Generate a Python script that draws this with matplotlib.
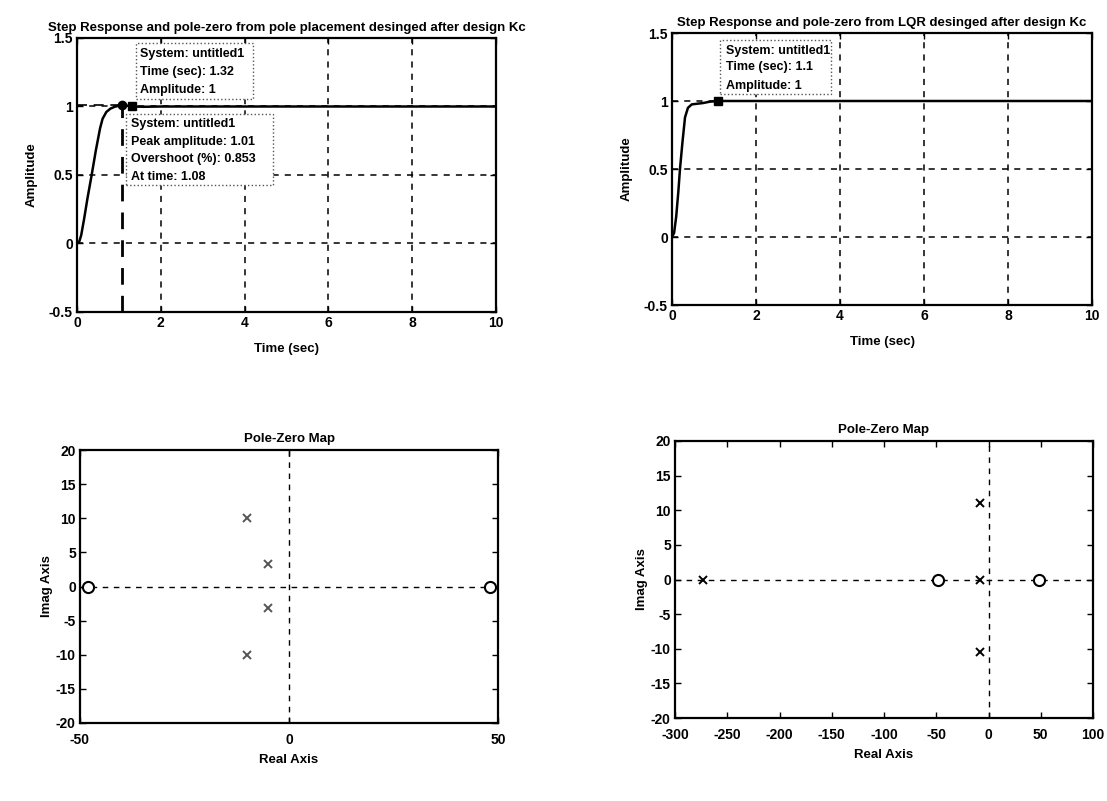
import numpy as np
import matplotlib
matplotlib.use('Agg')
import matplotlib.pyplot as plt

plt.rcParams['font.family'] = ['Liberation Sans', 'DejaVu Sans']
plt.rcParams['font.weight'] = 'bold'
plt.rcParams['axes.unicode_minus'] = False

# step response, pole placement
t_pp = [0, 0.05, 0.1, 0.17, 0.25, 0.35, 0.45, 0.55, 0.61, 0.7, 0.8, 0.9,
        1.0, 1.08, 1.2, 1.32, 1.6, 2, 3, 5, 10]
y_pp = [0, 0.01, 0.06, 0.18, 0.33, 0.5, 0.68, 0.84, 0.91, 0.96, 0.985, 0.998,
        1.006, 1.0085, 1.006, 1.0, 0.998, 1.0, 1.0, 1.0, 1.0]
peak_t, peak_y = 1.08, 1.0085
settle_t, settle_y = 1.32, 1.0

# step response, LQR
t_lqr = [0, 0.05, 0.1, 0.15, 0.19, 0.25, 0.31, 0.38, 0.47, 0.6, 0.74, 0.9,
         1.1, 2, 4, 6, 8, 10]
y_lqr = [0, 0.03, 0.15, 0.33, 0.5, 0.7, 0.88, 0.95, 0.975, 0.98, 0.985, 0.995,
         1.0, 1.0, 1.0, 1.0, 1.0, 1.0]
lqr_mark_t, lqr_mark_y = 1.1, 1.0

# pole-zero, pole placement
pp_poles_re = [-10, -5, -5, -10]
pp_poles_im = [10, 3.3, -3.2, -10]
pp_zeros_re = [-48, 48]
pp_zeros_im = [0, 0]

# pole-zero, LQR
lqr_poles_re = [-273, -8, -8, -8]
lqr_poles_im = [0, 11, 0, -10.5]
lqr_zeros_re = [-48, 48]
lqr_zeros_im = [0, 0]

W, H = 1107, 801
fig = plt.figure(figsize=(W / 100, H / 100), dpi=100)


def box(l, r, t, b):
    return [l / W, (H - b) / H, (r - l) / W, (b - t) / H]


def style(ax):
    for s in ax.spines.values():
        s.set_linewidth(1.6)
        s.set_color('black')
    ax.tick_params(direction='in', length=4, width=1, labelsize=10, pad=3,
                   top=True, right=True)


def step_axes(ax, title):
    style(ax)
    ax.set_xlim(0, 10)
    ax.set_ylim(-0.5, 1.5)
    ax.set_xticks([0, 2, 4, 6, 8, 10])
    ax.set_yticks([-0.5, 0, 0.5, 1, 1.5])
    ax.set_yticklabels(['-0.5', '0', '0.5', '1', '1.5'])
    ax.grid(True, linestyle=(0, (4, 4)), color='black', linewidth=1.1)
    ax.set_title(title, fontsize=9.5, fontweight='bold', pad=5)
    ax.set_xlabel('Time (sec)', fontsize=9.5, fontweight='bold', labelpad=9)
    ax.set_ylabel('Amplitude', fontsize=9.5, fontweight='bold', labelpad=8)


def tip(ax, x0, x1, y0, y1, lines, tx, ty):
    ax.fill([x0, x1, x1, x0], [y0, y0, y1, y1], facecolor='white',
            edgecolor='#555555', linestyle=':', linewidth=1, zorder=4)
    for i, s in enumerate(lines):
        ax.text(tx, ty[i], s, fontsize=9, fontweight='bold', va='center',
                ha='left', zorder=5)


# top left
ax1 = fig.add_axes(box(77, 496, 38, 312))
step_axes(ax1, 'Step Response and pole-zero from pole placement desinged after design Kc')
ax1.plot(t_pp, y_pp, color='black', linewidth=1.8, zorder=3)
ax1.plot([peak_t, peak_t], [-0.5, peak_y], color='black', linewidth=2,
         linestyle=(0, (6, 4)), zorder=3)
ax1.plot([0, peak_t], [peak_y, peak_y], color='black', linewidth=1.2,
         linestyle=(0, (6, 4)), zorder=3)
ax1.plot(peak_t, peak_y, 'o', color='black', markersize=6, zorder=6)
ax1.plot(settle_t, settle_y, 's', color='black', markersize=6, zorder=6)
tip(ax1, 1.41, 4.2, 1.055, 1.46,
    ['System: untitled1', 'Time (sec): 1.32', 'Amplitude: 1'],
    1.51, [1.38, 1.25, 1.12])
tip(ax1, 1.17, 4.68, 0.43, 0.947,
    ['System: untitled1', 'Peak amplitude: 1.01', 'Overshoot (%): 0.853',
     'At time: 1.08'],
    1.28, [0.87, 0.74, 0.616, 0.484])

# top right
ax2 = fig.add_axes(box(672, 1092, 33, 305))
step_axes(ax2, 'Step Response and pole-zero from LQR desinged after design Kc')
ax2.plot(t_lqr, y_lqr, color='black', linewidth=1.8, zorder=3)
ax2.plot(lqr_mark_t, lqr_mark_y, 's', color='black', markersize=6, zorder=6)
tip(ax2, 1.15, 3.78, 1.055, 1.45,
    ['System: untitled1', 'Time (sec): 1.1', 'Amplitude: 1'],
    1.28, [1.37, 1.25, 1.11])


def pz_axes(ax, xlim, xticks):
    style(ax)
    ax.tick_params(axis='x', pad=7)
    ax.set_xlim(*xlim)
    ax.set_ylim(-20, 20)
    ax.set_xticks(xticks)
    ax.set_yticks([-20, -15, -10, -5, 0, 5, 10, 15, 20])
    ax.axhline(0, color='black', linestyle=(0, (4, 4)), linewidth=1)
    ax.axvline(0, color='black', linestyle=(0, (4, 4)), linewidth=1)
    ax.set_title('Pole-Zero Map', fontsize=9.5, fontweight='bold', pad=6)
    ax.set_xlabel('Real Axis', fontsize=9.5, fontweight='bold', labelpad=5)
    ax.set_ylabel('Imag Axis', fontsize=9.5, fontweight='bold', labelpad=2)


# bottom left
ax3 = fig.add_axes(box(80, 498, 450, 723))
pz_axes(ax3, (-50, 50), [-50, 0, 50])
ax3.plot(pp_poles_re, pp_poles_im, 'x', color='#555555', markersize=6,
         markeredgewidth=1.4, linestyle='none')
ax3.plot(pp_zeros_re, pp_zeros_im, 'o', markerfacecolor='white',
         markeredgecolor='black', markersize=8, markeredgewidth=1.5,
         linestyle='none', clip_on=False)

# bottom right
ax4 = fig.add_axes(box(675, 1093, 441, 718))
pz_axes(ax4, (-300, 100), [-300, -250, -200, -150, -100, -50, 0, 50, 100])
ax4.plot(lqr_poles_re, lqr_poles_im, 'x', color='black', markersize=6,
         markeredgewidth=1.4, linestyle='none')
ax4.plot(lqr_zeros_re, lqr_zeros_im, 'o', markerfacecolor='white',
         markeredgecolor='black', markersize=8, markeredgewidth=1.5,
         linestyle='none')

fig.savefig('out.png', dpi=100)
